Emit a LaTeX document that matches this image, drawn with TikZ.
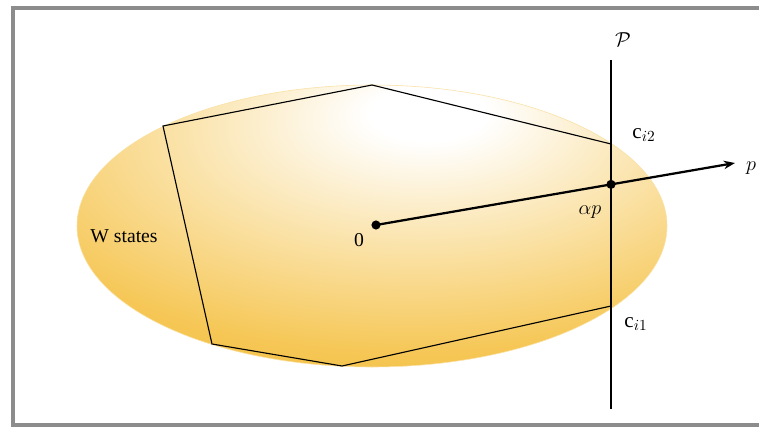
\documentclass[tikz,border=0pt]{standalone}
\usepackage{fontspec}
\setmainfont{Liberation Serif}
\usetikzlibrary{arrows.meta, positioning, calc}

\definecolor{wgold}{RGB}{244,189,56}
\definecolor{framegray}{RGB}{140,140,140}
\pgfdeclareradialshading{wglow}{\pgfpoint{5bp}{21bp}}{color(0bp)=(white); color(5bp)=(white); color(20bp)=(wgold!42); color(36bp)=(wgold!85); color(46bp)=(wgold); color(100bp)=(wgold)}

\begin{document}
\begin{tikzpicture}[
    dot/.style={circle, fill=black, inner sep=0pt, minimum size=6.5pt},
    lbl/.style={inner sep=1pt, font=\fontsize{14}{16}\selectfont},
    mlbl/.style={inner sep=1pt, font=\fontsize{15}{17}\selectfont},
    edge/.style={line width=0.8pt}
  ]
      \useasboundingbox (0,0) rectangle (19,10.675);
      \draw[framegray, line width=2.2pt] (18.97,10.475) -- (0.325,10.475) -- (0.325,0.05) -- (18.97,0.05);

      \path[shading=wglow, draw=wgold!45, line width=0.4pt] (9.3,5.025) ellipse [x radius=7.375, y radius=3.525];

      \coordinate (v1) at (9.3,8.55);
      \coordinate (v2) at (4.075,7.525);
      \coordinate (v3) at (5.3,2.075);
      \coordinate (v4) at (8.55,1.525);
      \coordinate (ci1) at (15.275,3.025);
      \coordinate (ci2) at (15.275,7.075);
      \draw[edge, line join=miter] (v1) -- (v2) -- (v3) -- (v4) -- (ci1);
      \draw[edge] (ci2) -- (v1);

      \coordinate (ptop) at (15.275,9.175);
      \coordinate (pbot) at (15.275,0.45);
      \draw[edge] (ptop) -- (pbot);

      \node[dot] (o) at (9.4,5.05) {};
      \coordinate (tip) at (18.375,6.6);
      \draw[line width=1.6pt, -{Stealth[length=8pt, width=6pt]}] (o.center) -- (tip);
      \node[dot] (ap) at (15.275,6.065) {};

      \node[mlbl] (plane) at (15.575,9.675) {$\mathcal{P}$};
      \node[mlbl] (ci2lbl) at (16.1,7.3) {$\mathrm{c}_{i2}$};
      \node[mlbl] (ci1lbl) at (15.9,2.575) {$\mathrm{c}_{i1}$};
      \node[mlbl] (plbl) at (18.775,6.475) {$p$};
      \node[mlbl] (aplbl) at (14.75,5.375) {$\alpha p$};
      \node[lbl] (olbl) at (8.975,4.675) {0};
      \node[lbl] (wlbl) at (3.1,4.775) {W states};
\end{tikzpicture}
\end{document}
